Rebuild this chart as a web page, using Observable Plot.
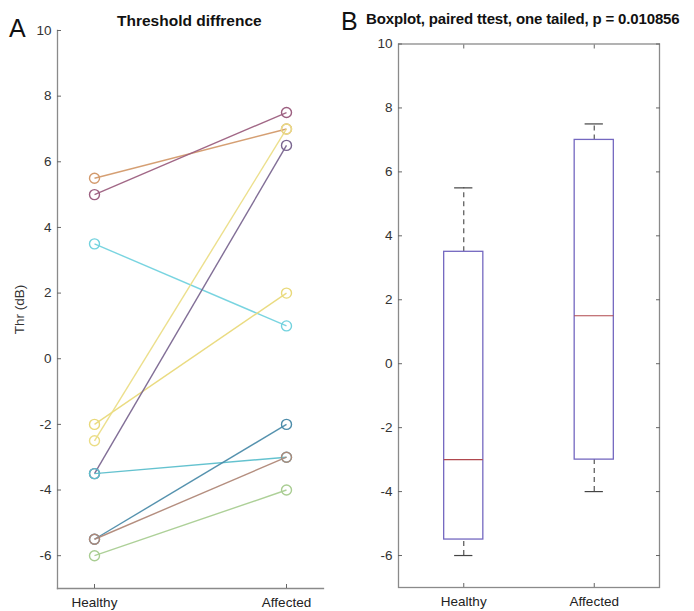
<!DOCTYPE html>
<html>
<head>
<meta charset="utf-8">
<script src="https://cdn.jsdelivr.net/npm/d3@7"></script>
<script src="https://cdn.jsdelivr.net/npm/@observablehq/plot@0.6"></script>
<style>
  html, body { margin: 0; padding: 0; background: #fff; }
  #wrap { position: relative; width: 694px; height: 611px; overflow: hidden; font-family: "Liberation Sans", Arial, sans-serif; }
  .panel { position: absolute; top: 0; }
  .big { position: absolute; font-size: 25px; color: #111; line-height: 1; }
  .ttl { position: absolute; font-size: 15.5px; font-weight: bold; color: #111; white-space: nowrap; line-height: 1; }
</style>
</head>
<body>
<div id="wrap">
  <div class="big" style="left:9px;top:16px;">A</div>
  <div class="ttl" style="left:117px;top:13px;">Threshold diffrence</div>
  <div class="big" style="left:341px;top:9px;">B</div>
  <div class="ttl" style="left:366px;top:11px;font-size:15px;letter-spacing:-0.15px;">Boxplot, paired ttest, one tailed, p = 0.010856</div>
  <div id="left" class="panel" style="left:0px;"></div>
  <div id="right" class="panel" style="left:340px;"></div>
</div>
<script>
// ---- data ----
const groups = ["Healthy", "Affected"];
const healthy  = [5.5, 5.0, 3.5, -2.0, -2.5, -3.5, -3.5, -5.5, -5.5, -6.0];
const affected = [7.0, 7.5, 1.0,  2.0,  7.0,  6.5, -3.0, -2.0, -3.0, -4.0];
const subjectColors = ["#d39a6c", "#9c5f80", "#72d2de", "#e9d97a", "#ebdd86", "#7a6690", "#5cbfcc", "#4c8caa", "#b08878", "#a9cd92"];
const yTicks = [-6, -4, -2, 0, 2, 4, 6, 8, 10];

const font = {fontFamily: "'Liberation Sans', Arial, sans-serif", fontSize: "13.5px", color: "#333", background: "transparent", overflow: "visible"};
const axisColor = "#8a8a8a";
const fmt = d => String(d);

// ---- panel A: paired lines ----
const pairs = healthy.map((h, i) => ({h, a: affected[i], color: subjectColors[i]}));
const pts = pairs.flatMap(p => [{g: groups[0], v: p.h, color: p.color}, {g: groups[1], v: p.a, color: p.color}]);

const left = Plot.plot({
  width: 340, height: 611,
  marginLeft: 57, marginRight: 17, marginTop: 30, marginBottom: 23,
  style: font,
  x: {type: "point", domain: groups, padding: 0.19, label: null},
  y: {domain: [-7, 10], label: null},
  color: {type: "identity"},
  marks: [
    Plot.frame({anchor: "left", stroke: axisColor, strokeWidth: 1.3}),
    Plot.frame({anchor: "bottom", stroke: axisColor, strokeWidth: 1.3}),
    Plot.axisY(yTicks, {anchor: "left", tickSize: 4, dx: 4, fill: "none", stroke: "#666"}),
    Plot.axisY(yTicks, {anchor: "left", tickSize: 0, tickPadding: 6, tickFormat: fmt, label: "Thr (dB)", labelAnchor: "center", labelArrow: "none", labelOffset: 43, fill: "#333"}),
    Plot.axisX(groups, {anchor: "bottom", tickSize: 4, dy: -4, fill: "none", stroke: "#666"}),
    Plot.axisX(groups, {anchor: "bottom", tickSize: 0, tickPadding: 9, label: null, fill: "#222"}),
    ...pairs.map(p => Plot.link([p], {x1: () => groups[0], x2: () => groups[1], y1: "h", y2: "a", stroke: "color", strokeWidth: 1.4, strokeOpacity: 0.95})),
    Plot.dot(pts, {x: "g", y: "v", r: 5, stroke: "color", strokeWidth: 1.4, fill: "none"})
  ]
});
document.getElementById("left").appendChild(left);

// ---- panel B: boxplot (MATLAB-style quantiles) ----
function mQuantile(values, p) {
  const s = values.slice().sort((a, b) => a - b), n = s.length;
  const pos = p * n + 0.5;
  if (pos <= 1) return s[0];
  if (pos >= n) return s[n - 1];
  const lo = Math.floor(pos), f = pos - lo;
  return s[lo - 1] + f * (s[lo] - s[lo - 1]);
}
function stats(values, i) {
  const q1 = mQuantile(values, 0.25), q3 = mQuantile(values, 0.75), med = mQuantile(values, 0.5);
  const iqr = q3 - q1;
  const inside = values.filter(v => v >= q1 - 1.5 * iqr && v <= q3 + 1.5 * iqr);
  return {i, q1, q3, med, lo: d3.min(inside), hi: d3.max(inside)};
}
const boxes = [stats(healthy, 1), stats(affected, 2)];
const halfBox = 0.15, halfCap = 0.07;

const right = Plot.plot({
  width: 354, height: 611,
  marginLeft: 58, marginRight: 35, marginTop: 43.5, marginBottom: 24,
  style: font,
  x: {domain: [0.5, 2.5], label: null},
  y: {domain: [-7, 10], label: null},
  marks: [
    Plot.frame({stroke: axisColor, strokeWidth: 1.3}),
    Plot.axisY(yTicks, {anchor: "left", tickSize: 4, dx: 4, fill: "none", stroke: "#666"}),
    Plot.axisY(yTicks, {anchor: "right", tickSize: 4, dx: -4, fill: "none", stroke: "#666", label: null}),
    Plot.axisY(yTicks, {anchor: "left", tickSize: 0, tickPadding: 6, tickFormat: fmt, label: null, fill: "#333"}),
    Plot.axisX([1, 2], {anchor: "bottom", tickSize: 4, dy: -4, fill: "none", stroke: "#666"}),
    Plot.axisX([1, 2], {anchor: "top", tickSize: 4, dy: 4, fill: "none", stroke: "#666", label: null}),
    Plot.axisX([1, 2], {anchor: "bottom", tickSize: 0, tickPadding: 9, label: null, tickFormat: d => groups[d - 1], fill: "#222"}),
    Plot.ruleX(boxes, {x: "i", y1: "q3", y2: "hi", stroke: "#555", strokeWidth: 1.2, strokeDasharray: "5,4"}),
    Plot.ruleX(boxes, {x: "i", y1: "lo", y2: "q1", stroke: "#555", strokeWidth: 1.2, strokeDasharray: "5,4"}),
    Plot.ruleY(boxes, {y: "hi", x1: d => d.i - halfCap, x2: d => d.i + halfCap, stroke: "#444", strokeWidth: 1.2}),
    Plot.ruleY(boxes, {y: "lo", x1: d => d.i - halfCap, x2: d => d.i + halfCap, stroke: "#444", strokeWidth: 1.2}),
    Plot.rect(boxes, {x1: d => d.i - halfBox, x2: d => d.i + halfBox, y1: "q1", y2: "q3", fill: "none", stroke: "#7468c0", strokeWidth: 1.3}),
    Plot.ruleY(boxes, {y: "med", x1: d => d.i - halfBox, x2: d => d.i + halfBox, stroke: "#b0484e", strokeWidth: 1.2})
  ]
});
document.getElementById("right").appendChild(right);
</script>
</body>
</html>
